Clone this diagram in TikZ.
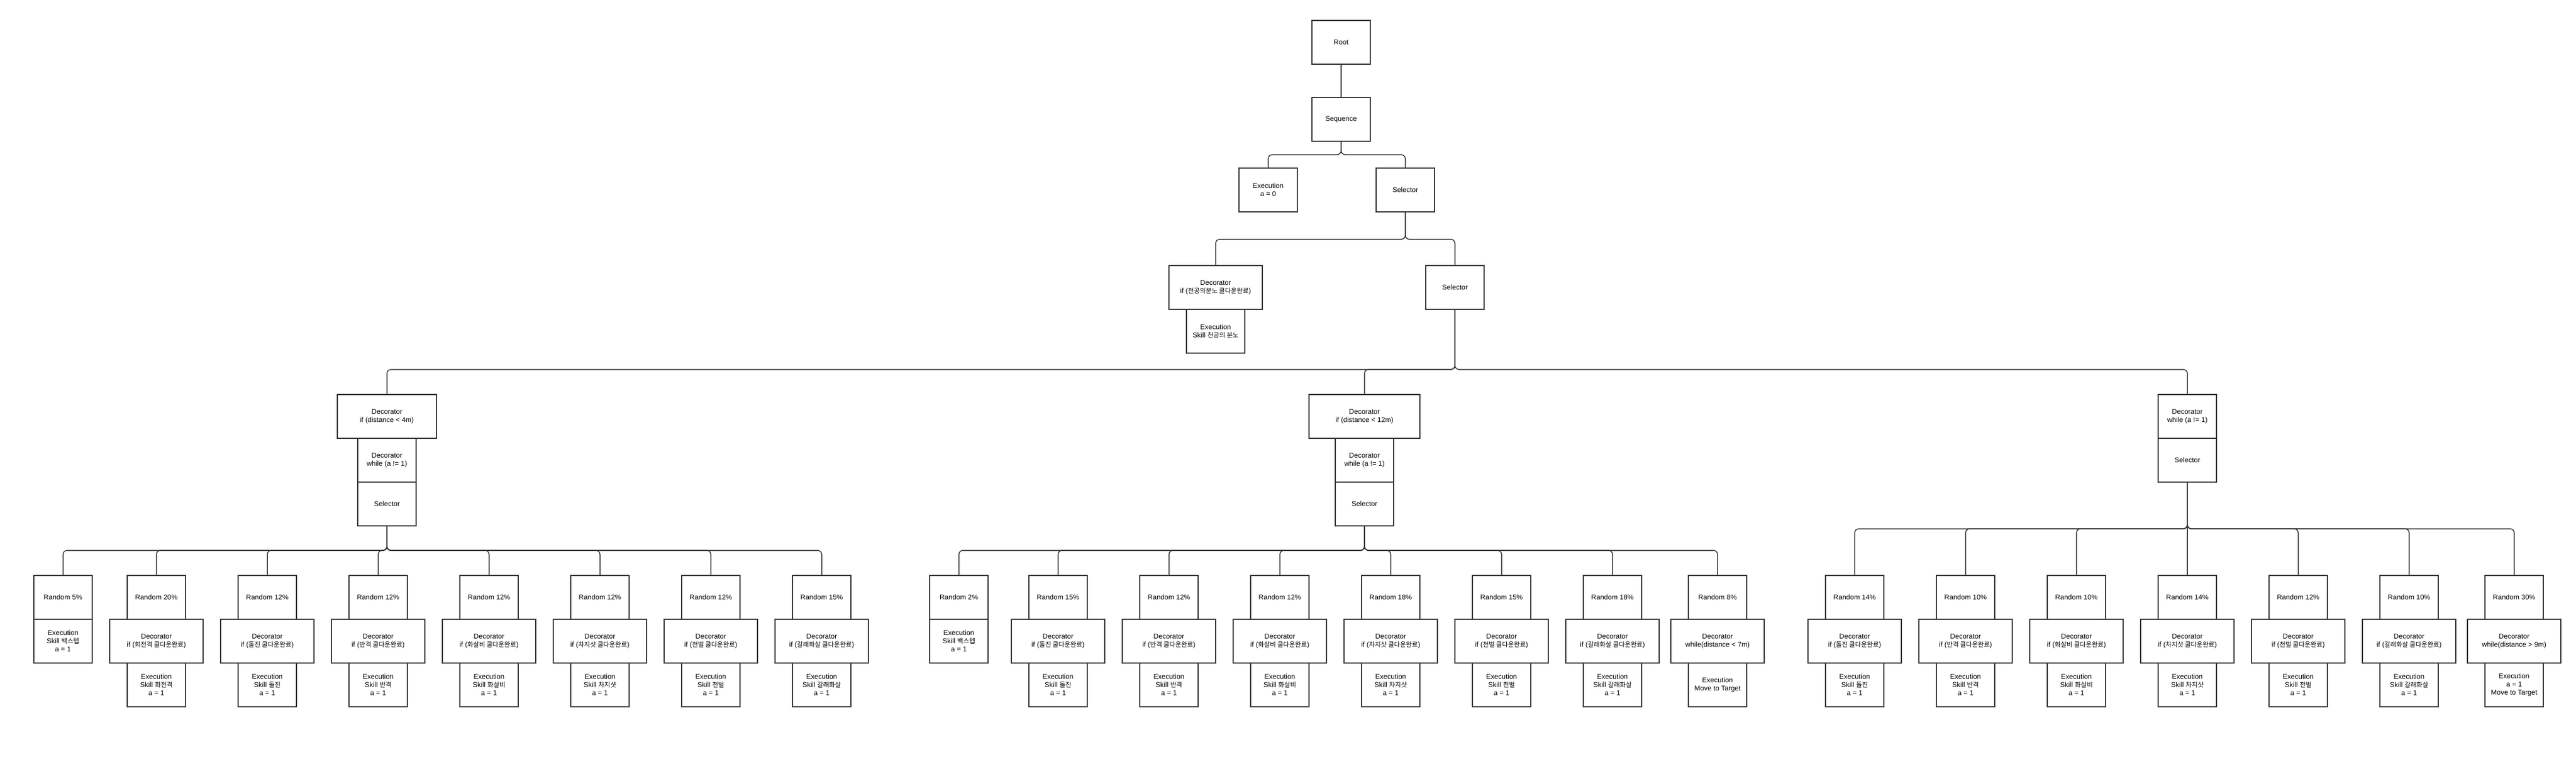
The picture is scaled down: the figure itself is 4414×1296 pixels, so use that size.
\documentclass[tikz,border=0pt]{standalone}
\usepackage{fontspec}
\setmainfont{Liberation Sans}
\newfontfamily\krfont{Noto Sans CJK KR}[Scale=0.92]
\newcommand{\kr}[1]{{\krfont #1}}
\usetikzlibrary{positioning}
\definecolor{linegray}{HTML}{333333}

\tikzset{
	box/.style={draw=linegray, line width=1.5pt, fill=white, outer sep=0pt, inner sep=2pt,
		align=center, minimum width=100pt, minimum height=75pt, font=\fontsize{12}{14}\selectfont},
	widebox/.style={box, minimum width=160pt},
	edge/.style={draw=linegray, line width=1.5pt, rounded corners=7pt},
}

\begin{document}
\begin{tikzpicture}[x=1pt,y=-1pt]

	\useasboundingbox (0,0) rectangle (4414,1296);

	\node[box] (root) at (2298,72.5) {Root};
	\node[box] (seq) at (2298,204.5) {Sequence};
	\node[box] (exec0) at (2173,325.5) {Execution\\a = 0};
	\node[box] (sel1) at (2408,325.5) {Selector};
	\node[widebox] (decsky) at (2083,492.5) {Decorator\\if (\kr{천공의분노 쿨다운완료})};
	\node[box, below=0pt of decsky] (execsky) {Execution\\Skill \kr{천공의 분노}};
	\node[box] (sel2) at (2493,492.5) {Selector};

	\node[box, minimum width=170pt] (decnear) at (663,713.5) {Decorator\\if (distance < 4m)};
	\node[box, below=0pt of decnear] (whilenear) {Decorator\\while (a != 1)};
	\node[box, below=0pt of whilenear] (selnear) {Selector};

	\node[box, minimum width=190pt] (decmid) at (2338,713.5) {Decorator\\if (distance < 12m)};
	\node[box, below=0pt of decmid] (whilemid) {Decorator\\while (a != 1)};
	\node[box, below=0pt of whilemid] (selmid) {Selector};

	\node[box] (whilefar) at (3748,713.5) {Decorator\\while (a != 1)};
	\node[box, below=0pt of whilefar] (selfar) {Selector};

	\foreach \x/\p/\s in {268/20/회전격, 458/12/돌진, 648/12/반격, 838/12/화살비, 1028/12/차지샷,
		1218/12/천벌, 1408/15/갈래화살, 1813/15/돌진, 2003/12/반격, 2193/12/화살비, 2383/18/차지샷,
		2573/15/천벌, 2763/18/갈래화살, 3178/14/돌진, 3368/10/반격, 3558/10/화살비, 3748/14/차지샷,
		3938/12/천벌, 4128/10/갈래화살} {
		\node[box] (rnd\x) at (\x,1023.5) {Random \p\%};
		\node[widebox, below=0pt of rnd\x] (dec\x) {Decorator\\if (\kr{\s{} 쿨다운완료})};
		\node[box, below=0pt of dec\x] (exe\x) {Execution\\Skill \kr{\s}\\a = 1};
	}

	\node[box] (rnd108) at (108,1023.5) {Random 5\%};
	\node[box, below=0pt of rnd108] (exe108) {Execution\\Skill \kr{백스텝}\\a = 1};

	\node[box] (rnd1643) at (1643,1023.5) {Random 2\%};
	\node[box, below=0pt of rnd1643] (exe1643) {Execution\\Skill \kr{백스텝}\\a = 1};

	\node[box] (rnd2943) at (2943,1023.5) {Random 8\%};
	\node[widebox, below=0pt of rnd2943] (dec2943) {Decorator\\while(distance < 7m)};
	\node[box, below=0pt of dec2943] (exe2943) {Execution\\Move to Target};

	\node[box] (rnd4308) at (4308,1023.5) {Random 30\%};
	\node[widebox, below=0pt of rnd4308] (dec4308) {Decorator\\while(distance > 9m)};
	\node[box, below=0pt of dec4308] (exe4308) {Execution\\a = 1\\Move to Target};

	\coordinate (busseq) at (2298,265);
	\coordinate (bussel1) at (2408,410);
	\coordinate (bussel2) at (2493,633);
	\coordinate (busnear) at (663,943);
	\coordinate (busmid) at (2338,943);
	\coordinate (busfar) at (3748,906);

	\draw[edge] (root) -- (seq);
	\foreach \c in {exec0, sel1}
		\draw[edge] (seq.south) -- (busseq) -| (\c.north);
	\foreach \c in {decsky, sel2}
		\draw[edge] (sel1.south) -- (bussel1) -| (\c.north);
	\foreach \c in {decnear, decmid, whilefar}
		\draw[edge] (sel2.south) -- (bussel2) -| (\c.north);
	\foreach \x in {108, 268, 458, 648, 838, 1028, 1218, 1408}
		\draw[edge] (selnear.south) -- (busnear) -| (rnd\x.north);
	\foreach \x in {1643, 1813, 2003, 2193, 2383, 2573, 2763, 2943}
		\draw[edge] (selmid.south) -- (busmid) -| (rnd\x.north);
	\foreach \x in {3178, 3368, 3558, 3938, 4128, 4308}
		\draw[edge] (selfar.south) -- (busfar) -| (rnd\x.north);
	\draw[edge] (selfar) -- (rnd3748);

\end{tikzpicture}
\end{document}
